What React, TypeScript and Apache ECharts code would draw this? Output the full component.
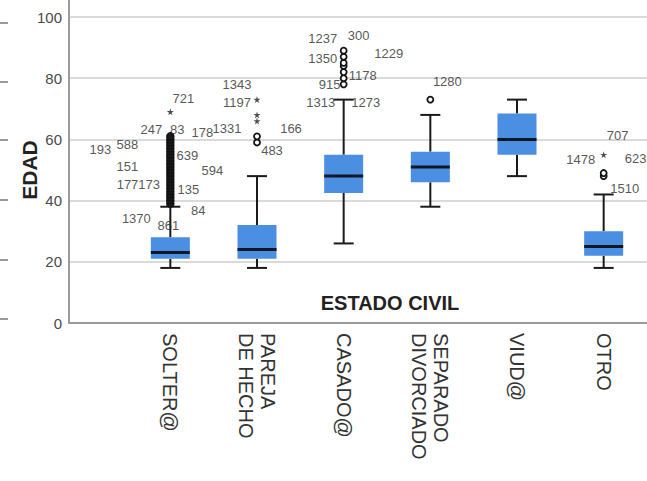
import React, { useEffect, useRef } from "react";
import * as echarts from "echarts";

// ---- data ----
const categories = ["SOLTER@", "PAREJA\nDE HECHO", "CASADO@", "SEPARADO\nDIVORCIADO", "VIUD@", "OTRO"];
const whiskerLow = [18, 18, 26, 38, 48, 18];
const q1 = [21, 21, 42.5, 46, 55, 22];
const median = [23, 24, 48, 51, 60, 25];
const q3 = [28, 32, 55, 56, 68.5, 30];
const whiskerHigh = [38, 48, 73, 68, 73, 42];

// outliers (circles) per category
const circleOutliers = [
  [39, 40, 41, 42, 43, 44, 45, 46, 47, 48, 49, 50, 51, 52, 53, 54, 55, 56, 57, 58, 59, 60, 61],
  [59, 61],
  [78, 80, 82, 84, 85, 87, 89],
  [73],
  [],
  [48, 49],
];
// extreme values (stars) per category
const extremeOutliers = [[69], [66, 68, 73], [], [], [], [55]];

// case-number labels: [category, value level, text]
const caseLabels: [number, number, string][] = [
  [0, 73.5, "721"], [0, 63.1, "247"], [0, 63.1, "83"], [0, 62.1, "178"],
  [0, 56.8, "193"], [0, 58.3, "588"], [0, 54.9, "639"], [0, 51.3, "151"],
  [0, 50, "594"], [0, 45.1, "177173"], [0, 43.5, "135"], [0, 36.9, "84"],
  [0, 34.3, "1370"], [0, 31.7, "861"],
  [1, 77.8, "1343"], [1, 71.9, "1197"], [1, 63.4, "1331"], [1, 63.4, "166"], [1, 56.5, "483"],
  [2, 93.1, "1237"], [2, 94.1, "300"], [2, 88.2, "1229"], [2, 86.6, "1350"],
  [2, 81, "1178"], [2, 77.8, "915"], [2, 72.2, "1313"], [2, 72.2, "1273"],
  [3, 78.8, "1280"],
  [5, 61.4, "707"], [5, 53.3, "1478"], [5, 53.6, "623"], [5, 44.1, "1510"],
];
// horizontal label offsets in px (layout only)
const caseLabelDx = [
  13, -19, 7, 32, -70, -43, 17, -43, 42, -32, 18, 28, -34, -2,
  -20, -20, -30, 34, 15,
  -21, 15, 45, -21, 19, -14, -23, 22,
  17,
  14, -23, 32, 21,
];

const yTicks = { min: 0, max: 100, interval: 20 };

const FONT = "'Liberation Sans', Arial, sans-serif";
const STAR = "path://M50,0 L61,35 L98,35 L68,57 L79,91 L50,70 L21,91 L32,57 L2,35 L39,35 Z";

export default function App() {
  const ref = useRef<HTMLDivElement>(null);
  useEffect(() => {
    document.body.style.margin = "0";
    const chart = echarts.init(ref.current!, null, { renderer: "svg" });
    const boxData = categories.map((_, i) => [i, whiskerLow[i], q1[i], median[i], q3[i], whiskerHigh[i]]);
    const circleData: number[][] = [];
    const denseData: number[][] = [];
    circleOutliers.forEach((arr, i) =>
      arr.forEach((v) => (arr.length > 10 ? denseData : circleData).push([i, v]))
    );
    const starData: number[][] = [];
    extremeOutliers.forEach((arr, i) => arr.forEach((v) => starData.push([i, v])));
    const labelData = caseLabels.map((l, k) => ({
      value: [l[0], l[1]],
      name: l[2],
      label: { offset: [caseLabelDx[k], 0] },
    }));

    const option: any = {
      animation: false,
      textStyle: { fontFamily: FONT },
      grid: [
        { left: 69, top: 17, right: 0, bottom: 158 },
        { left: 127, top: 17, right: 0, bottom: 158 },
      ],
      xAxis: [
        {
          type: "value", gridIndex: 0, min: 0, max: 1,
          axisLine: { show: true, onZero: false, lineStyle: { color: "#9a9a9a", width: 2 } },
          axisLabel: { show: false }, axisTick: { show: false }, splitLine: { show: false },
        },
        {
          type: "category", gridIndex: 1, data: categories,
          axisLine: { show: false }, axisTick: { show: false },
          axisLabel: {
            rotate: -90, fontSize: 20, lineHeight: 22, margin: 10, color: "#333",
            fontFamily: FONT, interval: 0,
          },
        },
      ],
      yAxis: [
        {
          type: "value", gridIndex: 0, ...yTicks,
          name: "EDAD", nameLocation: "middle", nameGap: 29, nameRotate: 90,
          nameMoveOverlap: false,
          nameTextStyle: { fontSize: 21, fontWeight: "bold", color: "#222", fontFamily: FONT },
          axisLine: { show: true, lineStyle: { color: "#9a9a9a", width: 2 } },
          axisTick: { show: false },
          axisLabel: { fontSize: 15, color: "#4a4a4a", margin: 7, fontFamily: FONT },
          splitLine: { show: true, lineStyle: { color: "#dadada", width: 2 } },
        },
        { type: "value", gridIndex: 1, ...yTicks, show: false, splitLine: { show: false } },
      ],
      graphic: [
        { type: "line", shape: { x1: 69, y1: 0, x2: 69, y2: 17 }, style: { stroke: "#9a9a9a", lineWidth: 2 } },
        ...[23, 82, 140, 200, 260, 319].map((y) => ({
          type: "line", shape: { x1: 0, y1: y, x2: 8, y2: y }, style: { stroke: "#999", lineWidth: 2 },
        })),
        {
          type: "text", x: 390, y: 303,
          style: {
            text: "ESTADO CIVIL", fontSize: 20, fontWeight: "bold", fill: "#222",
            fontFamily: FONT, textAlign: "center", textVerticalAlign: "middle",
          },
        },
      ],
      series: [
        {
          type: "custom", xAxisIndex: 1, yAxisIndex: 1, data: boxData,
          encode: { x: 0, y: [1, 2, 3, 4, 5] },
          renderItem: (params: any, api: any) => {
            const i = api.value(0);
            const lo = api.coord([i, api.value(1)]);
            const a = api.coord([i, api.value(2)]);
            const m = api.coord([i, api.value(3)]);
            const b = api.coord([i, api.value(4)]);
            const hi = api.coord([i, api.value(5)]);
            const x = lo[0];
            const bw = 39, cw = 20;
            const ls = { stroke: "#1a1a1a", lineWidth: 2 };
            return {
              type: "group",
              children: [
                { type: "line", shape: { x1: x, y1: b[1], x2: x, y2: hi[1] }, style: ls },
                { type: "line", shape: { x1: x, y1: a[1], x2: x, y2: lo[1] }, style: ls },
                { type: "line", shape: { x1: x - cw / 2, y1: hi[1], x2: x + cw / 2, y2: hi[1] }, style: ls },
                { type: "line", shape: { x1: x - cw / 2, y1: lo[1], x2: x + cw / 2, y2: lo[1] }, style: ls },
                { type: "rect", shape: { x: x - bw / 2, y: b[1], width: bw, height: a[1] - b[1] }, style: { fill: "#4a8fe2" } },
                { type: "line", shape: { x1: x - bw / 2, y1: m[1], x2: x + bw / 2, y2: m[1] }, style: { stroke: "#0e1822", lineWidth: 3 } },
              ],
            };
          },
          z: 2,
        },
        {
          type: "scatter", xAxisIndex: 1, yAxisIndex: 1, data: circleData,
          symbol: "circle", symbolSize: 6,
          itemStyle: { color: "#ffffff", borderColor: "#111111", borderWidth: 1.8, opacity: 1 },
          z: 3,
        },
        {
          type: "scatter", xAxisIndex: 1, yAxisIndex: 1, data: denseData,
          symbol: "circle", symbolSize: 7,
          itemStyle: { color: "#1a1a1a", borderColor: "#111111", borderWidth: 1.5, opacity: 1 },
          z: 3,
        },
        {
          type: "scatter", xAxisIndex: 1, yAxisIndex: 1, data: starData,
          symbol: STAR, symbolSize: 7, itemStyle: { color: "#222" }, z: 3,
        },
        {
          type: "scatter", xAxisIndex: 1, yAxisIndex: 1, data: labelData,
          symbolSize: 1, itemStyle: { color: "rgba(0,0,0,0)" },
          label: { show: true, position: "inside", formatter: "{b}", fontSize: 13, color: "#2a2a2a", fontFamily: FONT },
          z: 4,
        },
      ],
    };
    chart.setOption(option);
    return () => chart.dispose();
  }, []);
  return <div ref={ref} style={{ width: 647, height: 481 }} />;
}
